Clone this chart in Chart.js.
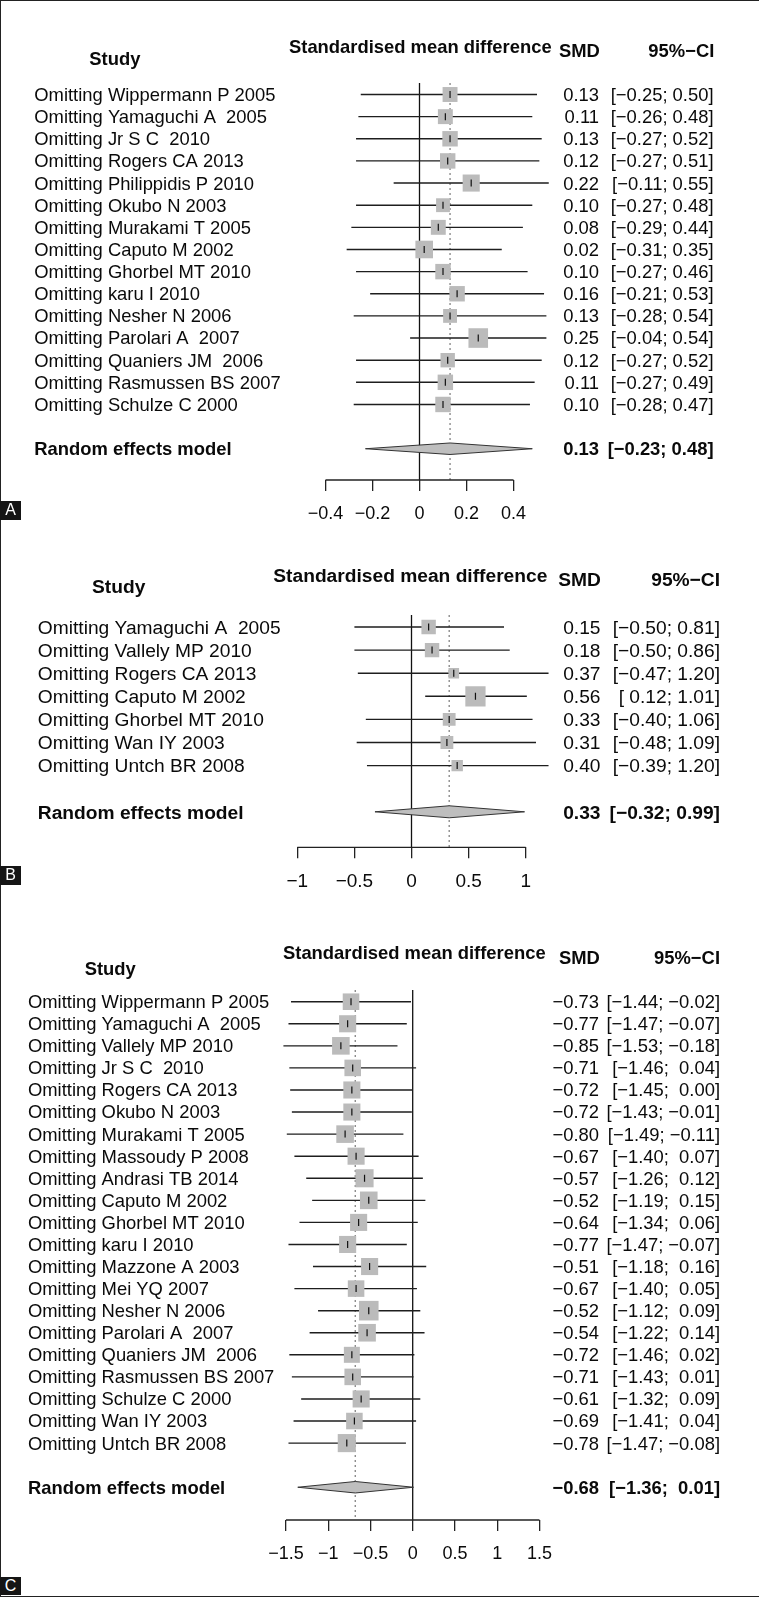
<!DOCTYPE html>
<html>
<head>
<meta charset="utf-8">
<title>Leave-one-out forest plots</title>
<script src="https://cdn.jsdelivr.net/npm/chart.js@4.4.1/dist/chart.umd.min.js"></script>
<style>
  html, body { margin: 0; padding: 0; background: #fff; }
  #page { position: relative; width: 759px; height: 1597px; overflow: hidden; background: #fff; }
  #page canvas { position: absolute; left: 0; }
  #frame { position: absolute; left: 0; top: 0; width: 759px; height: 1597px; box-sizing: border-box;
           border-left: 1.5px solid #222; border-top: 1.5px solid #222; border-bottom: 1.5px solid #222;
           pointer-events: none; }
  .tag { position: absolute; left: 0; width: 21px; height: 19px; line-height: 19px; background: #151515;
         color: #fff; font: 16px "Liberation Sans", Arial, sans-serif; text-align: center; }
</style>
</head>
<body>
<div id="page">
  <canvas id="forestA" width="759" height="560" style="top:0px;width:759px;height:560px"></canvas>
  <canvas id="forestB" width="759" height="370" style="top:560px;width:759px;height:370px"></canvas>
  <canvas id="forestC" width="759" height="667" style="top:930px;width:759px;height:667px"></canvas>
  <div id="frame"></div>
  <div class="tag" style="top:501px">A</div>
  <div class="tag" style="top:866px">B</div>
  <div class="tag" style="top:1577px;height:18px;line-height:18px">C</div>
</div>
<script>
var FONT = '"Liberation Sans", Arial, Helvetica, sans-serif';

// ---- panel A ----
var studiesA = [
  "Omitting Wippermann P 2005", "Omitting Yamaguchi A  2005", "Omitting Jr S C  2010",
  "Omitting Rogers CA 2013", "Omitting Philippidis P 2010", "Omitting Okubo N 2003",
  "Omitting Murakami T 2005", "Omitting Caputo M 2002", "Omitting Ghorbel MT 2010",
  "Omitting karu I 2010", "Omitting Nesher N 2006", "Omitting Parolari A  2007",
  "Omitting Quaniers JM  2006", "Omitting Rasmussen BS 2007", "Omitting Schulze C 2000"
];
var smdA = [0.13, 0.11, 0.13, 0.12, 0.22, 0.10, 0.08, 0.02, 0.10, 0.16, 0.13, 0.25, 0.12, 0.11, 0.10];
var lowerA = [-0.25, -0.26, -0.27, -0.27, -0.11, -0.27, -0.29, -0.31, -0.27, -0.21, -0.28, -0.04, -0.27, -0.27, -0.28];
var upperA = [0.50, 0.48, 0.52, 0.51, 0.55, 0.48, 0.44, 0.35, 0.46, 0.53, 0.54, 0.54, 0.52, 0.49, 0.47];
var weightA = [87, 87, 93, 93, 114, 75, 87, 121, 93, 93, 75, 150, 81, 93, 93]; // relative box weights
var pooledA = [0.13, -0.23, 0.48]; // estimate, lower, upper
var ticksA = [-0.4, -0.2, 0, 0.2, 0.4];

// ---- panel B ----
var studiesB = [
  "Omitting Yamaguchi A  2005", "Omitting Vallely MP 2010", "Omitting Rogers CA 2013",
  "Omitting Caputo M 2002", "Omitting Ghorbel MT 2010", "Omitting Wan IY 2003", "Omitting Untch BR 2008"
];
var smdB = [0.15, 0.18, 0.37, 0.56, 0.33, 0.31, 0.40];
var lowerB = [-0.50, -0.50, -0.47, 0.12, -0.40, -0.48, -0.39];
var upperB = [0.81, 0.86, 1.20, 1.01, 1.06, 1.09, 1.20];
var weightB = [81, 81, 44, 160, 64, 64, 51];
var pooledB = [0.33, -0.32, 0.99];
var ticksB = [-1, -0.5, 0, 0.5, 1];

// ---- panel C ----
var studiesC = [
  "Omitting Wippermann P 2005", "Omitting Yamaguchi A  2005", "Omitting Vallely MP 2010",
  "Omitting Jr S C  2010", "Omitting Rogers CA 2013", "Omitting Okubo N 2003",
  "Omitting Murakami T 2005", "Omitting Massoudy P 2008", "Omitting Andrasi TB 2014",
  "Omitting Caputo M 2002", "Omitting Ghorbel MT 2010", "Omitting karu I 2010",
  "Omitting Mazzone A 2003", "Omitting Mei YQ 2007", "Omitting Nesher N 2006",
  "Omitting Parolari A  2007", "Omitting Quaniers JM  2006", "Omitting Rasmussen BS 2007",
  "Omitting Schulze C 2000", "Omitting Wan IY 2003", "Omitting Untch BR 2008"
];
var smdC = [-0.73, -0.77, -0.85, -0.71, -0.72, -0.72, -0.80, -0.67, -0.57, -0.52, -0.64,
            -0.77, -0.51, -0.67, -0.52, -0.54, -0.72, -0.71, -0.61, -0.69, -0.78];
var lowerC = [-1.44, -1.47, -1.53, -1.46, -1.45, -1.43, -1.49, -1.40, -1.26, -1.19, -1.34,
              -1.47, -1.18, -1.40, -1.12, -1.22, -1.46, -1.43, -1.32, -1.41, -1.47];
var upperC = [-0.02, -0.07, -0.18, 0.04, 0.00, -0.01, -0.11, 0.07, 0.12, 0.15, 0.06,
              -0.07, 0.16, 0.05, 0.09, 0.14, 0.02, 0.01, 0.09, 0.04, -0.08];
var weightC = [107, 114, 121, 107, 114, 114, 121, 114, 128, 121, 114, 114, 114, 107, 150,
               121, 100, 107, 114, 107, 128];
var pooledC = [-0.68, -1.36, 0.01];
var ticksC = [-1.5, -1, -0.5, 0, 0.5, 1, 1.5];

// numbers are printed with a real minus sign
function fmt(v) {
  return v.toFixed(2).replace("-", "\u2212");
}
// like R's format(): pad non-negative values when the column holds negatives
function padColumn(values) {
  var hasNeg = values.some(function (v) { return v < 0; });
  return values.map(function (v) { return (hasNeg && v >= 0 ? " " : "") + fmt(v); });
}

function makeForest(p) {
  var n = p.studies.length;
  var reRow = n + 2; // one blank row before the pooled estimate

  var lows = padColumn(p.lower.concat([p.pooled[1]]));
  var ups = padColumn(p.upper.concat([p.pooled[2]]));
  var ciText = lows.map(function (l, i) { return "[" + l + "; " + ups[i] + "]"; });
  var smdText = p.smd.concat([p.pooled[0]]).map(fmt);

  // confidence intervals as one line dataset with gaps
  var ciPts = [];
  for (var i = 0; i < n; i++) {
    ciPts.push({ x: p.lower[i], y: i + 1 }, { x: p.upper[i], y: i + 1 }, { x: null, y: null });
  }
  var estPts = p.smd.map(function (v, i) { return { x: v, y: i + 1 }; });
  var boxRadius = p.weight.map(function (w) { return Math.sqrt(w) * 1.6 / 1.4142; });

  var h = 0.26; // half height of the diamond, in rows
  var diamond = [
    { x: p.pooled[1], y: reRow }, { x: p.pooled[0], y: reRow - h },
    { x: p.pooled[2], y: reRow }, { x: p.pooled[0], y: reRow + h }, { x: p.pooled[1], y: reRow }
  ];

  var W = 759;
  var axisH = 11 + 2 * 12 + 1.2 * p.tickFont;
  var padBottom = p.height - (p.axisY - p.top) - axisH;

  var forestPlugin = {
    id: "forest" + p.id,
    beforeDatasetsDraw: function (chart) {
      var ctx = chart.ctx, xs = chart.scales.x, a = chart.chartArea;
      ctx.save();
      // line of no effect
      ctx.strokeStyle = "#111";
      ctx.lineWidth = 1.3;
      ctx.beginPath();
      ctx.moveTo(xs.getPixelForValue(0), a.top);
      ctx.lineTo(xs.getPixelForValue(0), a.bottom);
      ctx.stroke();
      // pooled estimate, dotted
      ctx.strokeStyle = "#7a7a7a";
      ctx.lineWidth = 1.2;
      ctx.setLineDash([2, 3]);
      ctx.beginPath();
      ctx.moveTo(xs.getPixelForValue(p.pooled[0]), a.top);
      ctx.lineTo(xs.getPixelForValue(p.pooled[0]), a.bottom);
      ctx.stroke();
      ctx.restore();
    },
    afterDraw: function (chart) {
      var ctx = chart.ctx, xs = chart.scales.x, ys = chart.scales.y, a = chart.chartArea;
      var t = xs.ticks;
      ctx.save();
      // axis line only between the outer ticks
      ctx.strokeStyle = "#222";
      ctx.lineWidth = 1.3;
      ctx.beginPath();
      ctx.moveTo(xs.getPixelForValue(t[0].value), a.bottom);
      ctx.lineTo(xs.getPixelForValue(t[t.length - 1].value), a.bottom);
      ctx.stroke();

      ctx.fillStyle = "#0a0a0a";
      ctx.textBaseline = "alphabetic";
      // headings
      ctx.font = "bold " + p.font + "px " + FONT;
      ctx.textAlign = "left";
      ctx.fillText("Study", p.hStudy[0], p.hStudy[1] - p.top);
      ctx.fillText("Standardised mean difference", p.hTitle[0], p.hTitle[1] - p.top);
      ctx.fillText("SMD", p.hSmd[0], p.hSmd[1] - p.top);
      ctx.textAlign = "right";
      ctx.fillText("95%\u2212CI", p.hCi[0], p.hCi[1] - p.top);

      // study rows
      var shift = 0.35 * p.font;
      ctx.font = p.font + "px " + FONT;
      for (var i = 0; i < n; i++) {
        var y = ys.getPixelForValue(i + 1) + shift;
        ctx.textAlign = "left";
        ctx.fillText(p.studies[i], p.labelX, y);
        ctx.textAlign = "right";
        ctx.fillText(smdText[i], p.smdRight, y);
        ctx.fillText(ciText[i], p.ciRight, y);
      }
      // pooled row
      var yr = ys.getPixelForValue(reRow) + shift;
      ctx.font = "bold " + p.font + "px " + FONT;
      ctx.textAlign = "left";
      ctx.fillText("Random effects model", p.labelX, yr);
      ctx.textAlign = "right";
      ctx.fillText(smdText[n], p.smdRight, yr);
      ctx.fillText(ciText[n], p.ciRight, yr);
      ctx.restore();
    }
  };

  return new Chart(document.getElementById(p.id), {
    type: "scatter",
    data: {
      datasets: [
        { label: "tick", data: estPts, pointStyle: "line", rotation: 90, pointRadius: 3.5,
          borderColor: "#111", borderWidth: 1.2, order: 0 },
        { label: "box", data: estPts, pointStyle: "rect", pointRadius: boxRadius,
          backgroundColor: "#bbbbbb", borderColor: "#bbbbbb", borderWidth: 0, order: 1 },
        { label: "ci", data: ciPts, showLine: true, pointRadius: 0, borderColor: "#1e1e1e",
          borderWidth: 1.4, spanGaps: false, order: 2 },
        { label: "pooled", data: diamond, showLine: true, fill: "shape", pointRadius: 0,
          backgroundColor: "#bebebe", borderColor: "#333", borderWidth: 1, order: 3 }
      ]
    },
    options: {
      responsive: false,
      animation: false,
      devicePixelRatio: 1,
      layout: {
        autoPadding: false, // keep the chart area on the exact canvas width
        padding: { top: p.lineTop - p.top, bottom: padBottom, left: 0, right: 0 }
      },
      scales: {
        x: {
          type: "linear",
          position: "bottom",
          min: -p.x0 / p.k,
          max: (W - p.x0) / p.k,
          afterBuildTicks: function (scale) {
            scale.ticks = p.ticks.map(function (v) { return { value: v }; });
          },
          border: { display: false },
          grid: { drawOnChartArea: false, drawTicks: true, tickLength: 11, color: "#222", lineWidth: 1.3 },
          ticks: {
            autoSkip: false, maxRotation: 0, padding: 12, color: "#0a0a0a",
            font: { family: FONT, size: p.tickFont, lineHeight: 1.2 },
            callback: function (v) { return String(v).replace("-", "\u2212"); }
          }
        },
        y: {
          type: "linear",
          display: false,
          reverse: true,
          min: 1 + (p.lineTop - p.row1) / p.step,
          max: 1 + (p.axisY - p.row1) / p.step
        }
      },
      plugins: {
        legend: { display: false },
        tooltip: { enabled: false },
        colors: { enabled: false }
      }
    },
    plugins: [forestPlugin]
  });
}

makeForest({
  id: "forestA", top: 0, height: 560,
  studies: studiesA, smd: smdA, lower: lowerA, upper: upperA, weight: weightA, pooled: pooledA, ticks: ticksA,
  x0: 419.5, k: 235, row1: 94.5, step: 22.14, lineTop: 83, axisY: 480,
  font: 18.4, tickFont: 18, labelX: 34.3, smdRight: 599, ciRight: 713.5,
  hStudy: [89.3, 65], hTitle: [289, 53], hSmd: [559, 56.7], hCi: [714.3, 56.7]
});

makeForest({
  id: "forestB", top: 560, height: 370,
  studies: studiesB, smd: smdB, lower: lowerB, upper: upperB, weight: weightB, pooled: pooledB, ticks: ticksB,
  x0: 411.5, k: 114.2, row1: 627, step: 23.1, lineTop: 615, axisY: 847.3,
  font: 19.2, tickFont: 19, labelX: 37.8, smdRight: 600.5, ciRight: 720,
  hStudy: [92, 593], hTitle: [273.3, 581.7], hSmd: [558.3, 586], hCi: [720, 586]
});

makeForest({
  id: "forestC", top: 930, height: 667,
  studies: studiesC, smd: smdC, lower: lowerC, upper: upperC, weight: weightC, pooled: pooledC, ticks: ticksC,
  x0: 412.7, k: 84.5, row1: 1001.7, step: 22.07, lineTop: 990, axisY: 1520,
  font: 18.4, tickFont: 18, labelX: 28, smdRight: 599, ciRight: 720,
  hStudy: [84.7, 975], hTitle: [283, 959], hSmd: [559, 964], hCi: [720, 964]
});
</script>
</body>
</html>
